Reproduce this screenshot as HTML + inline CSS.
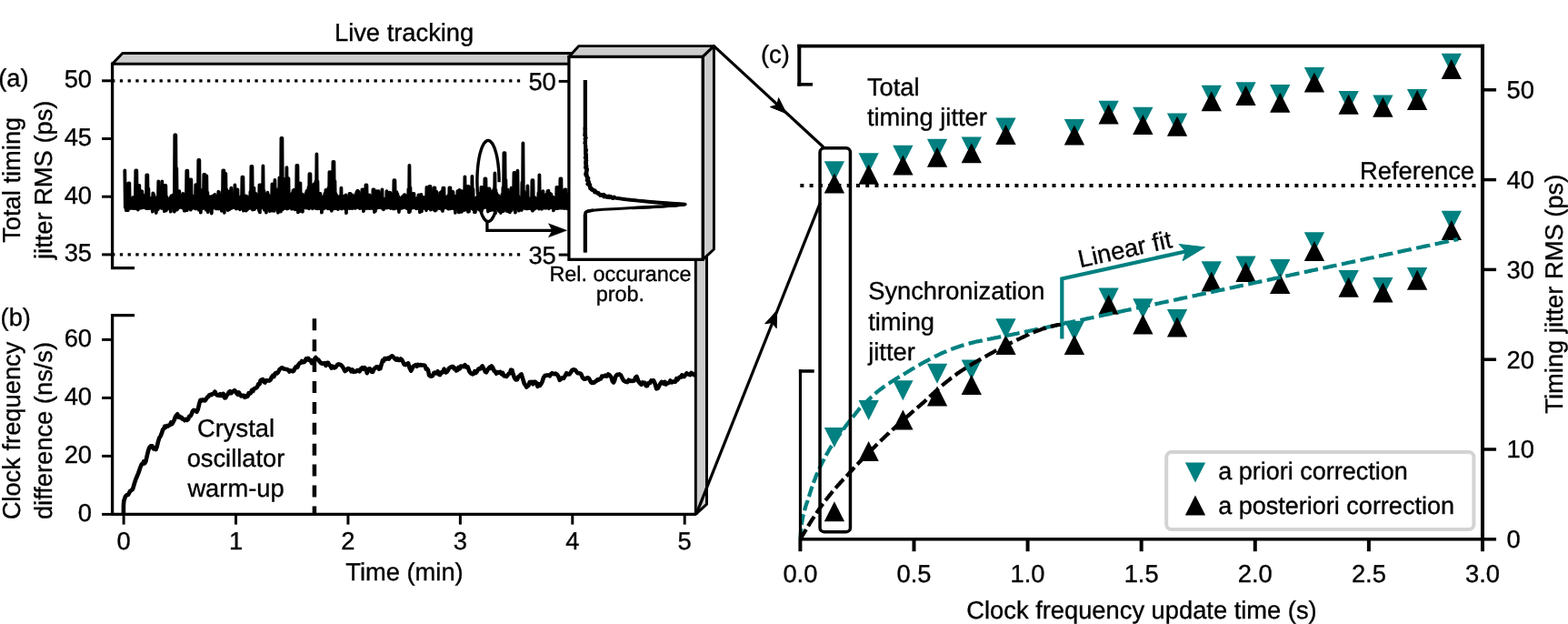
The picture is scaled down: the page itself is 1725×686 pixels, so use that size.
<!DOCTYPE html>
<html lang="en">
<head>
<meta charset="utf-8">
<title>Live tracking figure</title>
<style>
html,body{margin:0;padding:0;background:#fff;}
body{width:1725px;height:686px;overflow:hidden;}
svg{display:block;}
svg text{font-family:"Liberation Sans",Arial,Helvetica,sans-serif;text-rendering:geometricPrecision;stroke:#000;stroke-width:0.35px;}
</style>
</head>
<body>
<svg width="1725" height="686" viewBox="0 0 1725 686" role="img" aria-label="Live tracking of timing jitter and clock frequency difference">
<rect x="0" y="0" width="1725" height="686" fill="#ffffff"/>
<polygon points="123.60,70.20 134.80,58.40 776.50,58.40 765.30,70.20" fill="#cccccc" stroke="#000" stroke-width="2.95" stroke-linejoin="round"/>
<polygon points="765.30,70.20 777.50,58.40 777.50,554.35 765.30,565.35" fill="#cccccc" stroke="#000" stroke-width="2.95" stroke-linejoin="round"/>
<line x1="123.1" y1="88.80" x2="574" y2="88.80" stroke="#000" stroke-width="3.3" stroke-dasharray="3.3 5.44"/>
<line x1="123.1" y1="279.90" x2="574" y2="279.90" stroke="#000" stroke-width="3.3" stroke-dasharray="3.3 5.44"/>
<path d="M123.6,68.55 V294.6 H148" fill="none" stroke="#000" stroke-width="3.3" stroke-linejoin="miter" stroke-linecap="butt"/>
<line x1="112.10" y1="88.80" x2="123.60" y2="88.80" stroke="#000" stroke-width="3.0" />
<text x="101.00" y="96.20" font-size="27.3" text-anchor="end" fill="#000" >50</text>
<line x1="112.10" y1="152.50" x2="123.60" y2="152.50" stroke="#000" stroke-width="3.0" />
<text x="101.00" y="159.90" font-size="27.3" text-anchor="end" fill="#000" >45</text>
<line x1="112.10" y1="216.20" x2="123.60" y2="216.20" stroke="#000" stroke-width="3.0" />
<text x="101.00" y="223.60" font-size="27.3" text-anchor="end" fill="#000" >40</text>
<line x1="112.10" y1="279.90" x2="123.60" y2="279.90" stroke="#000" stroke-width="3.0" />
<text x="101.00" y="287.30" font-size="27.3" text-anchor="end" fill="#000" >35</text>
<path d="M549.1,200.2 L549.1,197.1 L549.0,194.1 L548.9,191.1 L548.7,188.2 L548.5,185.3 L548.2,182.4 L547.9,179.7 L547.5,177.0 L547.1,174.4 L546.6,171.9 L546.1,169.6 L545.5,167.4 L544.9,165.4 L544.3,163.5 L543.6,161.7 L542.9,160.2 L542.2,158.8 L541.4,157.6 L540.6,156.6 L539.9,155.8 L539.0,155.1 L538.2,154.7 L537.4,154.5 L536.6,154.5 L535.8,154.7 L535.0,155.1 L534.1,155.8 L533.4,156.6 L532.6,157.6 L531.8,158.8 L531.1,160.2 L530.4,161.7 L529.7,163.5 L529.1,165.4 L528.5,167.4 L527.9,169.6 L527.4,172.0 L526.9,174.4 L526.5,177.0 L526.1,179.7 L525.8,182.4 L525.5,185.3 L525.3,188.2 L525.1,191.1 L525.0,194.1 L524.9,197.1 L524.9,200.2 L525.0,203.2 L525.1,206.2 L525.2,209.2 L525.4,212.1 L525.7,214.9 L526.0,217.7 L526.4,220.4 L526.8,223.0 L527.3,225.5 L527.8,227.9 L528.3,230.1 L528.9,232.2 L529.6,234.1 L530.2,235.9 L530.9,237.5 L531.7,238.9 L532.4,240.2 L533.2,241.2 L534.0,242.1 L534.8,242.7 L535.6,243.2 L536.4,243.4 L537.2,243.5 L538.0,243.3 L538.9,243.0 L539.7,242.4 L540.5,241.6 L541.2,240.7 L542.0,239.5 L542.7,238.2 L543.5,236.7 L544.1,235.0 L544.8,233.1" fill="none" stroke="#000" stroke-width="3.4" stroke-linejoin="round" stroke-linecap="butt"/>
<path d="M137.3,187.4 L137.8,228.1 L138.3,208.4 L138.8,231.2 L139.3,217.6 L139.8,228.0 L140.3,211.6 L140.8,231.1 L141.3,201.4 L141.8,228.2 L142.3,201.4 L142.8,228.8 L143.3,220.3 L143.8,229.0 L144.3,217.6 L144.8,228.4 L145.3,218.4 L145.8,229.0 L146.3,217.2 L146.8,227.7 L147.3,216.7 L147.8,229.1 L148.3,218.6 L148.8,227.9 L149.3,187.4 L149.8,229.2 L150.3,187.4 L150.8,228.8 L151.3,207.3 L151.8,230.5 L152.3,204.0 L152.8,227.8 L153.3,204.0 L153.8,228.9 L154.3,212.2 L154.8,227.6 L155.3,210.1 L155.8,228.7 L156.3,210.3 L156.8,227.7 L157.3,214.2 L157.8,228.1 L158.3,216.4 L158.8,228.0 L159.3,218.1 L159.8,228.4 L160.3,215.3 L160.8,229.1 L161.3,192.3 L161.8,227.9 L162.3,192.3 L162.8,229.1 L163.3,207.3 L163.8,228.1 L164.3,220.2 L164.8,229.0 L165.3,218.1 L165.8,228.5 L166.3,219.0 L166.8,227.8 L167.3,217.1 L167.8,232.6 L168.3,212.5 L168.8,229.2 L169.3,213.8 L169.8,228.0 L170.3,216.9 L170.8,228.0 L171.3,217.3 L171.8,234.0 L172.3,219.3 L172.8,228.6 L173.3,218.0 L173.8,230.1 L174.3,199.3 L174.8,228.6 L175.3,213.8 L175.8,228.2 L176.3,219.0 L176.8,227.6 L177.3,218.7 L177.8,229.0 L178.3,199.3 L178.8,228.2 L179.3,216.3 L179.8,228.3 L180.3,215.2 L180.8,232.2 L181.3,204.0 L181.8,228.1 L182.3,204.0 L182.8,231.5 L183.3,216.4 L183.8,228.9 L184.3,218.9 L184.8,229.5 L185.3,219.3 L185.8,229.1 L186.3,219.7 L186.8,229.1 L187.3,217.3 L187.8,232.7 L188.3,215.5 L188.8,228.3 L189.3,217.9 L189.8,228.1 L190.3,214.4 L190.8,228.2 L191.3,215.0 L191.8,232.7 L192.3,148.4 L192.8,228.6 L193.3,148.4 L193.8,230.7 L194.3,185.2 L194.8,230.6 L195.3,218.9 L195.8,229.1 L196.3,210.1 L196.8,228.4 L197.3,210.1 L197.8,227.7 L198.3,219.6 L198.8,227.9 L199.3,217.5 L199.8,228.0 L200.3,216.5 L200.8,228.1 L201.3,212.9 L201.8,229.3 L202.3,215.4 L202.8,231.7 L203.3,216.3 L203.8,231.7 L204.3,215.5 L204.8,229.3 L205.3,187.7 L205.8,231.2 L206.3,187.7 L206.8,229.0 L207.3,215.2 L207.8,228.5 L208.3,209.8 L208.8,229.2 L209.3,197.5 L209.8,230.6 L210.3,197.5 L210.8,228.9 L211.3,215.0 L211.8,228.8 L212.3,220.0 L212.8,228.0 L213.3,217.7 L213.8,228.5 L214.3,216.5 L214.8,229.4 L215.3,203.1 L215.8,229.5 L216.3,215.1 L216.8,227.6 L217.3,202.6 L217.8,228.9 L218.3,176.0 L218.8,230.8 L219.3,176.0 L219.8,228.0 L220.3,209.0 L220.8,233.6 L221.3,211.6 L221.8,228.1 L222.3,213.1 L222.8,229.1 L223.3,208.7 L223.8,228.0 L224.3,191.8 L224.8,228.9 L225.3,191.8 L225.8,228.0 L226.3,209.0 L226.8,230.6 L227.3,193.5 L227.8,229.1 L228.3,211.6 L228.8,233.1 L229.3,215.6 L229.8,228.9 L230.3,217.9 L230.8,228.3 L231.3,218.8 L231.8,228.2 L232.3,216.1 L232.8,234.5 L233.3,217.4 L233.8,229.2 L234.3,215.4 L234.8,227.7 L235.3,216.5 L235.8,228.3 L236.3,213.9 L236.8,227.7 L237.3,215.2 L237.8,229.4 L238.3,216.5 L238.8,229.4 L239.3,215.6 L239.8,228.3 L240.3,210.7 L240.8,229.5 L241.3,214.5 L241.8,228.2 L242.3,215.4 L242.8,227.6 L243.3,214.1 L243.8,231.8 L244.3,210.9 L244.8,229.5 L245.3,187.4 L245.8,228.5 L246.3,187.4 L246.8,233.8 L247.3,214.1 L247.8,228.8 L248.3,190.9 L248.8,228.2 L249.3,208.4 L249.8,229.1 L250.3,216.0 L250.8,231.2 L251.3,212.4 L251.8,229.4 L252.3,210.4 L252.8,230.0 L253.3,214.0 L253.8,228.1 L254.3,206.6 L254.8,228.8 L255.3,219.1 L255.8,227.8 L256.4,218.2 L256.9,228.2 L257.4,214.4 L257.9,228.1 L258.4,203.5 L258.9,227.9 L259.4,216.0 L259.9,229.6 L260.4,208.4 L260.9,228.1 L261.4,208.4 L261.9,227.8 L262.4,216.6 L262.9,229.2 L263.4,217.9 L263.9,230.4 L264.4,218.7 L264.9,229.5 L265.4,215.9 L265.9,228.5 L266.4,194.7 L266.9,229.2 L267.4,194.7 L267.9,231.7 L268.4,216.0 L268.9,230.3 L269.4,215.3 L269.9,227.6 L270.4,215.4 L270.9,231.6 L271.4,215.8 L271.9,230.6 L272.4,216.6 L272.9,228.7 L273.4,219.7 L273.9,229.0 L274.4,218.9 L274.9,228.2 L275.4,210.8 L275.9,228.3 L276.4,183.0 L276.9,229.3 L277.4,183.0 L277.9,230.6 L278.4,214.8 L278.9,228.4 L279.4,206.6 L279.9,230.1 L280.4,215.6 L280.9,228.9 L281.4,212.9 L281.9,228.3 L282.4,215.6 L282.9,227.9 L283.4,215.9 L283.9,227.8 L284.4,217.7 L284.9,231.5 L285.4,203.5 L285.9,233.4 L286.4,203.5 L286.9,228.4 L287.4,218.8 L287.9,227.9 L288.4,204.9 L288.9,228.4 L289.4,182.5 L289.9,228.0 L290.4,209.8 L290.9,230.8 L291.4,218.8 L291.9,227.7 L292.4,215.1 L292.9,233.6 L293.4,213.7 L293.9,228.7 L294.4,211.7 L294.9,228.2 L295.4,214.3 L295.9,228.9 L296.4,217.4 L296.9,232.2 L297.4,218.8 L297.9,229.1 L298.4,216.1 L298.9,228.0 L299.4,202.3 L299.9,231.6 L300.4,216.6 L300.9,227.7 L301.4,216.0 L301.9,231.9 L302.4,197.9 L302.9,228.4 L303.4,210.9 L303.9,229.1 L304.4,208.5 L304.9,228.0 L305.4,209.1 L305.9,233.8 L306.4,214.3 L306.9,227.7 L307.4,195.3 L307.9,229.4 L308.4,195.3 L308.9,232.5 L309.4,152.0 L309.9,228.1 L310.4,152.0 L310.9,230.4 L311.4,217.6 L311.9,229.0 L312.4,197.0 L312.9,227.9 L313.4,197.0 L313.9,228.9 L314.4,210.3 L314.9,228.7 L315.4,184.2 L315.9,229.6 L316.4,212.7 L316.9,229.2 L317.4,196.1 L317.9,228.3 L318.4,213.6 L318.9,228.0 L319.4,216.4 L319.9,228.1 L320.4,215.1 L320.9,229.6 L321.4,212.6 L321.9,229.6 L322.4,209.7 L322.9,228.8 L323.4,208.7 L323.9,227.9 L324.4,213.5 L324.9,230.4 L325.4,216.0 L325.9,228.3 L326.4,181.8 L326.9,228.8 L327.4,181.8 L327.9,233.4 L328.4,204.9 L328.9,231.7 L329.4,214.0 L329.9,232.0 L330.4,201.4 L330.9,228.7 L331.4,216.0 L331.9,229.1 L332.4,213.5 L332.9,232.8 L333.4,216.4 L333.9,227.7 L334.4,217.6 L334.9,227.6 L335.4,214.9 L335.9,228.0 L336.4,212.7 L336.9,228.6 L337.4,210.0 L337.9,228.2 L338.4,210.7 L338.9,227.7 L339.4,206.0 L339.9,229.3 L340.4,191.2 L340.9,228.5 L341.4,191.2 L341.9,227.8 L342.4,217.0 L342.9,227.7 L343.4,217.6 L343.9,229.3 L344.4,213.3 L344.9,228.7 L345.4,202.3 L345.9,228.1 L346.4,216.0 L346.9,228.0 L347.4,199.2 L347.9,229.1 L348.4,169.5 L348.9,229.1 L349.4,199.3 L349.9,229.4 L350.4,217.6 L350.9,229.0 L351.4,214.5 L351.9,229.0 L352.4,212.8 L352.9,228.5 L353.4,218.8 L353.9,233.6 L354.4,219.0 L354.9,229.8 L355.4,217.0 L355.9,229.5 L356.4,215.4 L356.9,229.0 L357.4,212.6 L357.9,227.7 L358.4,208.9 L358.9,228.3 L359.4,210.0 L359.9,227.7 L360.4,211.5 L360.9,229.4 L361.4,206.4 L361.9,227.7 L362.4,189.1 L362.9,229.2 L363.4,189.1 L363.9,230.0 L364.4,217.4 L364.9,231.8 L365.4,203.4 L365.9,228.2 L366.4,177.8 L366.9,228.3 L367.4,177.8 L367.9,229.3 L368.4,199.1 L368.9,228.4 L369.4,213.0 L369.9,229.0 L370.4,214.8 L370.9,228.0 L371.4,216.7 L371.9,230.2 L372.4,216.5 L372.9,229.1 L373.4,217.2 L373.9,228.6 L374.4,215.7 L374.9,228.6 L375.4,206.6 L375.9,229.5 L376.4,215.3 L376.9,229.0 L377.4,216.8 L377.9,227.8 L378.4,217.7 L378.9,229.0 L379.4,215.4 L379.9,228.4 L380.4,214.3 L380.9,234.1 L381.4,216.9 L381.9,228.1 L382.4,219.2 L382.9,228.6 L383.4,217.0 L383.9,228.7 L384.4,212.8 L384.9,229.1 L385.4,212.8 L385.9,227.9 L386.4,214.7 L386.9,228.9 L387.4,214.5 L387.9,229.1 L388.4,216.7 L388.9,227.9 L389.4,218.2 L389.9,228.0 L390.4,215.7 L390.9,229.0 L391.4,213.3 L391.9,228.3 L392.4,211.0 L392.9,227.9 L393.4,209.7 L393.9,227.8 L394.4,210.6 L394.9,227.8 L395.4,214.1 L395.9,229.1 L396.4,218.4 L396.9,228.0 L397.4,217.9 L397.9,227.7 L398.4,208.4 L398.9,229.2 L399.4,208.4 L399.9,232.2 L400.4,215.7 L400.9,228.4 L401.4,213.7 L401.9,229.1 L402.4,203.5 L402.9,228.1 L403.4,203.5 L403.9,229.0 L404.4,216.7 L404.9,228.9 L405.4,217.9 L405.9,227.8 L406.4,214.4 L406.9,229.2 L407.4,217.7 L407.9,228.4 L408.4,216.5 L408.9,228.8 L409.4,216.6 L409.9,228.9 L410.4,208.4 L410.9,228.4 L411.4,208.4 L411.9,233.0 L412.4,219.5 L412.9,232.2 L413.4,215.2 L413.9,228.9 L414.4,210.1 L414.9,228.6 L415.4,212.2 L415.9,228.4 L416.4,210.2 L416.9,227.8 L417.4,212.8 L417.9,228.1 L418.4,213.0 L418.9,227.6 L419.4,212.8 L419.9,228.1 L420.4,208.4 L420.9,229.1 L421.4,218.8 L421.9,230.3 L422.4,219.3 L422.9,229.2 L423.4,218.7 L423.9,228.7 L424.4,218.5 L424.9,228.3 L425.4,210.1 L425.9,228.5 L426.4,216.3 L426.9,227.9 L427.4,214.6 L427.9,228.1 L428.4,211.6 L428.9,228.1 L429.4,212.0 L429.9,229.0 L430.4,214.5 L430.9,228.1 L431.4,216.0 L431.9,228.9 L432.4,213.6 L432.9,229.5 L433.4,198.2 L433.9,229.4 L434.4,198.2 L434.9,227.9 L435.4,213.2 L435.9,227.6 L436.4,211.2 L436.9,228.9 L437.4,213.5 L437.9,228.1 L438.4,216.2 L438.9,233.0 L439.4,218.2 L439.9,229.4 L440.4,219.7 L440.9,229.2 L441.4,217.8 L441.9,228.0 L442.4,216.3 L442.9,228.7 L443.4,215.8 L443.9,228.1 L444.4,214.5 L444.9,227.9 L445.4,214.1 L445.9,227.9 L446.4,217.1 L446.9,228.6 L447.4,219.3 L447.9,229.3 L448.4,219.7 L448.9,228.7 L449.4,207.9 L449.9,233.3 L450.4,181.8 L450.9,232.6 L451.4,206.4 L451.9,229.6 L452.4,216.4 L452.9,228.6 L453.4,214.9 L453.9,228.3 L454.4,212.8 L454.9,228.3 L455.4,212.8 L455.9,228.0 L456.4,217.8 L456.9,228.4 L457.4,218.5 L457.9,229.3 L458.4,219.4 L458.9,228.6 L459.4,217.3 L459.9,229.2 L460.4,214.5 L460.9,228.2 L461.4,214.5 L461.9,233.3 L462.4,216.7 L462.9,229.4 L463.4,214.0 L463.9,232.4 L464.4,216.6 L464.9,228.8 L465.4,218.9 L465.9,228.8 L466.4,216.8 L466.9,228.9 L467.4,216.8 L467.9,228.0 L468.4,217.4 L468.9,231.3 L469.4,205.8 L469.9,229.4 L470.4,216.7 L470.9,229.2 L471.4,215.8 L471.9,228.4 L472.4,204.9 L472.9,228.5 L473.4,204.9 L473.9,230.7 L474.4,217.2 L474.9,228.8 L475.4,214.5 L475.9,228.4 L476.4,212.0 L476.9,229.6 L477.4,206.3 L477.9,230.9 L478.4,206.3 L478.9,231.6 L479.4,212.5 L479.9,230.9 L480.4,210.8 L480.9,229.0 L481.4,215.3 L481.9,227.7 L482.4,217.3 L482.9,229.0 L483.4,218.0 L483.9,229.0 L484.4,211.9 L484.9,229.5 L485.4,211.1 L485.9,227.6 L486.4,209.9 L486.9,231.9 L487.4,206.6 L487.9,229.3 L488.4,206.6 L488.9,227.7 L489.4,216.2 L489.9,227.9 L490.4,219.3 L490.9,228.3 L491.4,216.7 L491.9,228.4 L492.4,218.7 L492.9,229.5 L493.4,214.7 L493.9,229.5 L494.4,206.3 L494.9,229.3 L495.4,206.3 L495.9,229.3 L496.4,212.7 L496.9,228.2 L497.4,211.2 L497.9,228.8 L498.4,211.0 L498.9,229.2 L499.4,215.1 L499.9,228.8 L500.4,218.6 L500.9,233.9 L501.4,219.3 L501.9,228.7 L502.4,215.5 L502.9,229.2 L503.4,210.1 L503.9,227.8 L504.4,210.1 L504.9,233.4 L505.4,209.0 L505.9,228.8 L506.4,211.4 L506.9,230.9 L507.4,209.9 L507.9,232.9 L508.4,210.5 L508.9,229.1 L509.4,213.0 L509.9,229.4 L510.4,213.4 L510.9,231.0 L511.4,194.4 L511.9,228.3 L512.4,212.5 L512.9,230.3 L513.4,212.7 L513.9,227.8 L514.4,204.9 L514.9,232.8 L515.4,204.9 L515.9,232.7 L516.4,219.2 L516.9,228.6 L517.4,217.9 L517.9,228.5 L518.4,216.8 L518.9,229.2 L519.4,193.9 L519.9,229.8 L520.4,208.0 L520.9,228.7 L521.4,217.7 L521.9,233.1 L522.4,219.0 L522.9,233.3 L523.4,220.2 L523.9,228.9 L524.4,217.2 L524.9,228.9 L525.4,218.2 L525.9,229.5 L526.4,218.5 L526.9,230.5 L527.4,215.6 L527.9,229.4 L528.4,212.5 L528.9,229.2 L529.4,205.8 L529.9,231.9 L530.4,205.8 L530.9,229.5 L531.4,211.9 L531.9,227.8 L532.4,211.1 L532.9,227.8 L533.4,196.5 L533.9,227.9 L534.4,196.5 L534.9,227.6 L535.4,214.2 L535.9,228.0 L536.4,214.3 L536.9,232.5 L537.4,207.5 L537.9,229.3 L538.4,207.5 L538.9,228.5 L539.4,213.7 L539.9,231.2 L540.4,210.5 L540.9,227.7 L541.4,213.0 L541.9,229.3 L542.4,216.0 L542.9,230.9 L543.4,207.8 L543.9,228.6 L544.4,190.5 L544.9,234.4 L545.4,208.9 L545.9,228.0 L546.4,212.7 L546.9,228.2 L547.4,215.8 L547.9,229.6 L548.4,215.1 L548.9,232.0 L549.4,218.3 L549.9,229.1 L550.4,219.1 L550.9,234.0 L551.4,216.4 L551.9,227.6 L552.4,213.6 L552.9,231.7 L553.4,206.1 L553.9,232.1 L554.4,168.1 L554.9,230.8 L555.4,168.1 L555.9,228.6 L556.4,197.9 L556.9,228.8 L557.4,208.4 L557.9,232.1 L558.4,208.4 L558.9,228.4 L559.4,211.3 L559.9,229.3 L560.4,214.2 L560.9,233.4 L561.4,215.3 L561.9,228.0 L562.4,206.6 L562.9,231.2 L563.4,213.7 L563.9,228.5 L564.4,206.9 L564.9,229.0 L565.4,190.0 L565.9,229.0 L566.4,190.0 L566.9,233.7 L567.4,216.8 L567.9,228.6 L568.4,211.9 L568.9,227.6 L569.4,187.7 L569.9,227.8 L570.4,216.0 L570.9,231.7 L571.4,219.7 L571.9,228.8 L572.4,219.7 L572.9,228.6 L573.4,217.6 L573.9,231.0 L574.4,200.5 L574.9,228.6 L575.4,157.3 L575.9,227.9 L576.4,210.4 L576.9,227.9 L577.4,219.0 L577.9,229.3 L578.4,219.6 L578.9,228.4 L579.4,216.4 L579.9,229.5 L580.4,204.5 L580.9,228.3 L581.4,219.3 L581.9,229.2 L582.4,219.3 L582.9,229.2 L583.4,218.3 L583.9,229.5 L584.4,219.9 L584.9,228.1 L585.4,198.2 L585.9,231.7 L586.4,198.2 L586.9,230.6 L587.4,216.8 L587.9,228.9 L588.4,217.1 L588.9,229.4 L589.4,218.5 L589.9,228.1 L590.4,220.0 L590.9,228.1 L591.4,218.9 L591.9,228.1 L592.4,212.1 L592.9,229.5 L593.4,192.3 L593.9,227.8 L594.4,218.2 L594.9,228.6 L595.4,216.4 L595.9,229.9 L596.4,216.6 L596.9,228.4 L597.4,210.1 L597.9,228.7 L598.4,214.6 L598.9,228.7 L599.4,217.1 L599.9,228.5 L600.4,214.5 L600.9,228.8 L601.4,213.3 L601.9,228.0 L602.4,210.2 L602.9,228.4 L603.4,209.6 L603.9,229.3 L604.4,212.8 L604.9,228.7 L605.4,212.8 L605.9,228.2 L606.4,213.7 L606.9,227.7 L607.4,217.4 L607.9,228.4 L608.4,216.6 L608.9,231.4 L609.4,217.6 L609.9,227.9 L610.4,217.6 L610.9,228.3 L611.4,217.6 L611.9,229.2 L612.4,205.8 L612.9,229.1 L613.4,205.8 L613.9,229.2 L614.4,217.1 L614.9,227.9 L615.4,213.8 L615.9,228.6 L616.4,196.5 L616.9,228.7 L617.4,196.5 L617.9,228.8 L618.4,213.9 L618.9,228.5 L619.4,216.4 L619.9,228.7 L620.4,216.1 L620.9,229.2 L621.4,208.4 L621.9,228.0 L622.4,208.4 L622.9,227.9 L623.4,217.7 L623.9,229.4 L624.4,216.6 L624.9,229.3 L625.4,213.5 L625.9,228.5" fill="none" stroke="#000" stroke-width="3.8" stroke-linejoin="round" stroke-linecap="round"/>
<path d="M535.9,242 V253.3 H612" fill="none" stroke="#000" stroke-width="3.3" stroke-linejoin="miter"/>
<polygon points="623.60,253.30 603.50,245.80 607.50,253.30 603.50,260.80" fill="#000" stroke="#000" stroke-width="0.5" />
<line x1="112.10" y1="565.40" x2="123.60" y2="565.40" stroke="#000" stroke-width="3.0" />
<text x="101.00" y="573.00" font-size="27.3" text-anchor="end" fill="#000" >0</text>
<line x1="112.10" y1="501.40" x2="123.60" y2="501.40" stroke="#000" stroke-width="3.0" />
<text x="101.00" y="509.00" font-size="27.3" text-anchor="end" fill="#000" >20</text>
<line x1="112.10" y1="437.40" x2="123.60" y2="437.40" stroke="#000" stroke-width="3.0" />
<text x="101.00" y="445.00" font-size="27.3" text-anchor="end" fill="#000" >40</text>
<line x1="112.10" y1="373.40" x2="123.60" y2="373.40" stroke="#000" stroke-width="3.0" />
<text x="101.00" y="381.00" font-size="27.3" text-anchor="end" fill="#000" >60</text>
<line x1="136.10" y1="565.35" x2="136.10" y2="576.65" stroke="#000" stroke-width="3.0" />
<text x="136.10" y="604.20" font-size="27.3" text-anchor="middle" fill="#000" >0</text>
<line x1="259.52" y1="565.35" x2="259.52" y2="576.65" stroke="#000" stroke-width="3.0" />
<text x="259.52" y="604.20" font-size="27.3" text-anchor="middle" fill="#000" >1</text>
<line x1="382.94" y1="565.35" x2="382.94" y2="576.65" stroke="#000" stroke-width="3.0" />
<text x="382.94" y="604.20" font-size="27.3" text-anchor="middle" fill="#000" >2</text>
<line x1="506.36" y1="565.35" x2="506.36" y2="576.65" stroke="#000" stroke-width="3.0" />
<text x="506.36" y="604.20" font-size="27.3" text-anchor="middle" fill="#000" >3</text>
<line x1="629.78" y1="565.35" x2="629.78" y2="576.65" stroke="#000" stroke-width="3.0" />
<text x="629.78" y="604.20" font-size="27.3" text-anchor="middle" fill="#000" >4</text>
<line x1="753.20" y1="565.35" x2="753.20" y2="576.65" stroke="#000" stroke-width="3.0" />
<text x="753.20" y="604.20" font-size="27.3" text-anchor="middle" fill="#000" >5</text>
<path d="M148,346.6 H123.6 V565.35 H765.3" fill="none" stroke="#000" stroke-width="3.3" stroke-linejoin="miter" stroke-linecap="butt"/>
<path d="M135.9,564.5 L135.9,556.0 L136.3,550.7 L137.8,546.1 L139.4,544.2 L141.0,544.0 L143.0,540.0 L144.5,539.1 L146.0,537.8 L148.0,531.0 L149.5,526.6 L151.0,523.0 L152.1,520.4 L153.2,517.4 L154.3,514.0 L155.7,510.5 L157.0,510.0 L158.1,507.4 L159.3,509.3 L160.4,507.2 L162.0,500.0 L163.2,495.1 L164.4,491.9 L165.9,490.2 L167.5,490.4 L168.8,493.3 L170.2,492.7 L171.5,494.0 L172.7,491.1 L173.9,485.8 L175.1,481.8 L176.6,479.4 L178.0,476.0 L179.1,472.3 L180.2,471.5 L181.3,468.6 L182.5,469.6 L183.6,468.1 L184.8,468.5 L185.9,467.4 L187.0,467.2 L188.2,464.4 L189.3,466.0 L190.4,464.3 L191.6,462.0 L192.9,458.4 L194.1,456.4 L195.2,455.3 L196.3,458.6 L197.4,457.7 L198.5,459.1 L199.6,458.8 L200.8,460.7 L202.1,460.8 L203.3,462.1 L204.6,460.9 L205.8,461.9 L207.0,461.0 L208.2,457.8 L209.5,457.5 L210.7,455.3 L211.9,452.1 L213.1,450.9 L214.2,451.2 L215.3,451.6 L216.5,452.7 L217.8,450.0 L219.2,443.9 L220.5,439.8 L221.8,440.4 L223.1,439.4 L224.4,440.3 L225.7,440.4 L226.8,438.5 L228.0,436.8 L229.2,436.1 L230.3,434.3 L231.5,433.8 L232.7,434.2 L234.0,432.7 L235.2,432.8 L236.4,430.6 L237.6,432.9 L238.7,434.4 L239.8,434.4 L241.0,434.9 L242.2,433.2 L243.3,435.1 L244.4,434.9 L245.6,432.8 L247.1,437.4 L248.2,437.3 L249.4,434.6 L250.5,433.6 L251.7,431.3 L253.0,430.2 L254.3,432.2 L255.5,431.2 L256.8,430.1 L258.1,429.2 L259.4,430.6 L260.5,432.6 L261.7,433.8 L262.9,431.5 L264.0,433.7 L265.3,435.5 L266.6,434.9 L267.9,434.8 L269.2,436.8 L270.3,435.3 L271.4,436.1 L272.5,435.7 L273.6,432.1 L274.7,432.8 L275.9,432.0 L277.1,428.8 L278.4,429.9 L279.6,427.3 L280.8,426.7 L282.0,426.5 L283.1,425.3 L284.3,422.1 L285.5,422.3 L286.6,418.4 L287.8,417.5 L289.0,417.1 L290.3,419.8 L291.5,420.5 L292.7,418.3 L293.9,418.3 L295.2,418.4 L296.4,418.5 L297.6,417.5 L298.8,414.8 L300.1,412.9 L301.3,414.1 L302.6,410.7 L303.8,409.8 L305.0,410.3 L306.2,408.9 L307.5,406.1 L308.7,405.3 L309.9,404.3 L311.1,404.7 L312.3,405.5 L313.6,405.7 L314.8,405.9 L316.0,406.1 L317.2,406.9 L318.4,408.5 L319.7,407.4 L320.9,407.6 L322.1,408.3 L323.4,407.5 L324.7,404.3 L326.0,403.0 L327.2,403.8 L328.5,400.7 L329.8,399.1 L330.9,399.0 L332.1,397.0 L333.2,398.1 L334.4,398.2 L335.5,397.4 L336.7,394.4 L337.9,395.4 L339.0,393.9 L340.3,396.1 L341.7,395.9 L343.0,399.1 L344.4,397.5 L345.9,394.9 L347.3,393.0 L348.7,395.1 L350.1,395.4 L351.5,397.4 L352.8,398.8 L354.0,399.7 L355.3,399.6 L356.9,399.1 L358.5,401.9 L359.8,398.8 L361.0,398.7 L362.3,401.2 L363.6,402.5 L364.7,404.6 L365.9,402.6 L367.0,403.8 L368.1,404.4 L369.6,403.4 L371.0,401.1 L372.5,400.4 L374.1,400.7 L375.7,401.9 L377.0,403.3 L378.2,405.5 L379.5,408.0 L381.1,406.9 L382.7,405.1 L384.0,405.2 L385.3,406.2 L386.5,408.3 L387.8,406.5 L389.1,408.9 L390.4,408.5 L391.6,408.4 L392.9,407.0 L394.2,407.0 L395.5,408.3 L397.1,405.3 L398.7,404.2 L400.0,405.7 L401.2,404.3 L402.5,405.7 L403.8,410.2 L405.7,405.5 L406.8,405.3 L407.9,407.0 L409.0,408.7 L410.1,408.9 L411.4,405.7 L412.7,404.6 L414.0,403.4 L415.5,403.4 L416.9,405.7 L418.4,405.1 L419.7,400.4 L421.0,396.1 L422.1,396.8 L423.3,394.0 L424.4,394.0 L425.6,394.6 L426.7,393.6 L427.9,394.6 L429.0,392.9 L430.2,391.9 L431.3,391.3 L432.5,392.3 L434.1,394.0 L435.7,395.5 L437.0,394.2 L438.2,396.0 L439.5,395.9 L440.8,394.5 L442.1,395.5 L443.3,397.8 L444.6,400.6 L446.1,401.2 L447.5,400.2 L449.0,399.3 L450.6,404.5 L452.2,407.6 L453.5,405.2 L454.8,402.5 L456.1,401.9 L457.4,401.1 L458.6,402.7 L459.9,400.9 L461.2,401.6 L462.5,401.1 L463.7,401.4 L465.0,401.5 L466.2,401.5 L467.5,401.9 L468.7,405.6 L469.8,405.3 L471.0,407.1 L472.1,412.6 L473.3,413.4 L474.6,413.7 L475.9,413.1 L477.1,410.3 L478.4,409.5 L480.0,410.4 L481.6,408.3 L482.9,411.7 L484.1,412.1 L485.2,409.6 L486.4,409.7 L487.5,408.4 L488.6,405.7 L490.5,409.5 L491.6,408.8 L492.8,407.1 L493.9,405.1 L495.1,404.1 L496.2,403.4 L497.4,403.1 L498.5,403.1 L499.7,405.5 L500.9,405.1 L502.0,407.5 L503.2,407.0 L504.5,404.0 L505.8,405.4 L507.1,402.5 L508.6,402.7 L510.0,403.1 L511.5,401.2 L513.1,403.6 L514.7,403.4 L516.3,408.2 L517.9,410.2 L519.8,411.4 L521.1,410.9 L522.3,408.2 L523.6,409.9 L524.9,408.3 L526.1,406.0 L527.2,405.3 L528.4,405.4 L529.5,403.7 L530.7,402.5 L532.3,405.4 L533.9,408.9 L535.1,409.3 L536.2,407.1 L537.4,405.2 L538.6,403.8 L539.7,404.8 L540.9,402.5 L542.2,404.5 L543.5,407.6 L544.7,408.2 L546.0,410.8 L547.5,409.1 L548.9,409.7 L550.4,408.9 L551.7,411.1 L553.0,410.0 L554.4,413.3 L555.7,413.4 L557.0,414.0 L558.3,412.7 L559.6,410.8 L560.9,410.6 L562.1,406.6 L563.4,407.0 L564.6,411.6 L565.9,415.3 L567.5,417.5 L569.1,417.2 L570.2,414.2 L571.4,413.5 L572.5,412.1 L573.6,411.4 L575.2,416.6 L576.8,421.7 L578.0,423.3 L579.3,425.5 L580.4,424.1 L581.5,423.9 L582.7,420.0 L583.8,420.4 L585.0,419.8 L586.3,422.3 L587.6,419.7 L588.9,419.7 L590.1,421.0 L591.4,424.8 L592.7,422.1 L594.0,423.9 L595.2,422.2 L596.5,419.7 L598.1,414.8 L599.7,412.7 L601.0,412.9 L602.2,412.4 L603.5,412.6 L604.8,413.4 L606.1,411.3 L607.4,410.2 L608.7,411.0 L610.0,411.1 L611.2,410.6 L612.5,411.4 L614.1,413.5 L615.7,417.8 L617.2,416.6 L618.6,415.3 L620.1,415.9 L621.7,413.2 L623.3,410.2 L624.9,411.5 L626.5,411.4 L627.8,409.7 L629.0,407.4 L630.3,406.5 L631.6,406.3 L632.9,406.8 L634.2,408.6 L635.4,410.2 L636.7,410.2 L638.0,410.4 L639.3,411.4 L640.9,415.0 L642.5,416.6 L644.0,416.6 L645.4,415.5 L646.9,415.3 L648.0,416.3 L649.1,418.1 L650.3,420.3 L651.4,421.0 L652.5,420.3 L653.6,420.7 L654.8,419.4 L655.9,419.1 L657.2,417.4 L658.4,417.6 L659.7,416.6 L661.0,416.5 L662.2,413.5 L663.5,413.9 L664.8,413.4 L665.9,412.6 L667.0,413.7 L668.1,413.4 L669.2,411.4 L670.8,412.6 L672.4,414.6 L673.7,418.9 L675.0,420.4 L676.2,417.9 L677.5,413.4 L678.8,411.9 L680.1,411.9 L681.4,411.4 L683.0,412.4 L684.6,415.9 L685.9,418.2 L687.1,419.0 L688.4,419.7 L690.0,420.1 L691.6,417.8 L692.9,418.9 L694.1,418.6 L695.4,419.0 L696.6,418.6 L697.9,418.5 L699.2,414.9 L700.5,414.0 L702.4,419.1 L704.0,421.3 L705.6,422.9 L706.9,420.3 L708.1,421.0 L709.4,420.9 L710.7,424.1 L712.0,424.2 L713.6,421.1 L715.2,421.0 L716.5,418.4 L717.7,418.5 L719.0,418.4 L720.3,421.0 L722.2,427.4 L723.8,426.8 L725.4,423.6 L726.7,421.4 L727.9,419.8 L729.2,420.4 L730.3,421.9 L731.5,419.8 L732.6,422.5 L733.7,421.7 L735.0,421.2 L736.2,420.7 L737.5,418.5 L739.0,420.4 L740.4,419.6 L741.9,419.7 L743.1,419.7 L744.2,416.1 L745.4,417.5 L746.5,415.7 L747.7,414.6 L749.0,414.8 L750.3,412.3 L751.5,413.9 L752.8,414.1 L754.1,412.1 L755.4,410.4 L756.6,411.0 L757.9,411.6 L759.2,412.2 L760.4,410.0 L761.7,410.6 L763.6,412.1" fill="none" stroke="#000" stroke-width="4.6" stroke-linejoin="round" stroke-linecap="round"/>
<line x1="345.91" y1="350.3" x2="345.91" y2="565.35" stroke="#000" stroke-width="4.5" stroke-dasharray="13.0 9.9"/>
<text x="259.50" y="479.50" font-size="27.3" text-anchor="middle" fill="#000" >Crystal</text>
<text x="259.50" y="512.50" font-size="27.3" text-anchor="middle" fill="#000" >oscillator</text>
<text x="259.50" y="545.50" font-size="27.3" text-anchor="middle" fill="#000" >warm-up</text>
<text x="445.00" y="637.50" font-size="27.3" text-anchor="middle" fill="#000" >Time (min)</text>
<text x="444.60" y="45.40" font-size="27.3" text-anchor="middle" fill="#000" >Live tracking</text>
<text x="-1.80" y="95.20" font-size="27.3" text-anchor="start" fill="#000" >(a)</text>
<text x="0.60" y="358.20" font-size="27.3" text-anchor="start" fill="#000" >(b)</text>
<text x="22.30" y="197.80" font-size="27.3" text-anchor="middle" fill="#000" transform="rotate(-90 22.30 197.80)" >Total timing</text>
<text x="56.90" y="197.80" font-size="27.3" text-anchor="middle" fill="#000" transform="rotate(-90 56.90 197.80)" >jitter RMS (ps)</text>
<text x="22.30" y="473.50" font-size="27.3" text-anchor="middle" fill="#000" transform="rotate(-90 22.30 473.50)" >Clock frequency</text>
<text x="56.90" y="473.50" font-size="27.3" text-anchor="middle" fill="#000" transform="rotate(-90 56.90 473.50)" >difference (ns/s)</text>
<polygon points="625.90,62.40 636.80,50.60 785.40,50.60 773.20,62.40" fill="#cccccc" stroke="#000" stroke-width="2.95" stroke-linejoin="round"/>
<polygon points="773.20,62.40 785.40,50.60 785.40,274.00 773.20,285.30" fill="#cccccc" stroke="#000" stroke-width="2.95" stroke-linejoin="round"/>
<rect x="625.9" y="62.4" width="147.30" height="222.90" fill="#fff" stroke="#000" stroke-width="3.3"/>
<line x1="614.70" y1="89.40" x2="625.90" y2="89.40" stroke="#000" stroke-width="3.0" />
<text x="611.80" y="99.20" font-size="27.3" text-anchor="end" fill="#000" >50</text>
<line x1="614.70" y1="280.10" x2="625.90" y2="280.10" stroke="#000" stroke-width="3.0" />
<text x="611.80" y="289.90" font-size="27.3" text-anchor="end" fill="#000" >35</text>
<path d="M643.8,88.0 L643.8,140.0 L644.1,160.0 L644.5,175.0 L645.0,185.0 L645.6,192.5 L646.4,197.0 L647.4,201.2 L649.0,205.0 L651.3,208.0 L654.3,210.5 L658.3,212.7 L662.8,214.5 L668.3,216.0 L676.8,217.6 L688.8,219.2 L701.8,220.6 L718.8,222.2 L735.8,223.5 L753.6,224.6 L741.8,225.9 L728.8,226.9 L713.8,227.7 L695.8,228.6 L679.8,229.5 L663.8,230.3 L651.8,231.2 L646.3,232.2 L644.3,233.5 L643.8,236.0 L643.8,277.5" fill="none" stroke="#000" stroke-width="3.0" stroke-linejoin="round" stroke-linecap="butt"/>
<path d="M643.8,88.0 L643.8,150.0" fill="none" stroke="#000" stroke-width="4.2" stroke-linecap="butt"/>
<path d="M643.8,236.0 L643.8,277.5" fill="none" stroke="#000" stroke-width="4.2" stroke-linecap="butt"/>
<path d="M651.8,231.2 L646.3,232.2 L644.3,233.5 L643.8,236.0" fill="none" stroke="#000" stroke-width="3.6" stroke-linecap="round" stroke-linejoin="round"/>
<path d="M643.8,140.0 L644.1,160.0 L644.5,175.0 L645.0,185.0 L645.6,192.5 L646.4,197.0 L647.4,201.2 L649.0,205.0 L651.3,208.0 L654.3,210.5 L658.3,212.7 L662.8,214.5 L668.3,216.0 L676.8,217.6 L688.8,219.2 L701.8,220.6 L718.8,222.2 L735.8,223.5 L753.6,224.6 L741.8,225.9" fill="none" stroke="#000" stroke-width="3.9" stroke-linecap="round" stroke-linejoin="round"/>
<path d="M753.6,224.6 L741.8,225.9 L728.8,226.9 L713.8,227.7 L695.8,228.6" fill="none" stroke="#000" stroke-width="3.4" stroke-linecap="round" stroke-linejoin="round"/>
<circle cx="643.8" cy="140.0" r="2.1" fill="#000"/>
<circle cx="643.9" cy="141.3" r="2.1" fill="#000"/>
<circle cx="643.8" cy="142.7" r="2.1" fill="#000"/>
<circle cx="643.8" cy="144.0" r="2.1" fill="#000"/>
<circle cx="643.9" cy="145.4" r="2.1" fill="#000"/>
<circle cx="643.8" cy="146.6" r="2.1" fill="#000"/>
<circle cx="643.4" cy="148.4" r="2.1" fill="#000"/>
<circle cx="644.2" cy="148.8" r="2.1" fill="#000"/>
<circle cx="644.5" cy="151.2" r="2.1" fill="#000"/>
<circle cx="644.2" cy="152.1" r="2.1" fill="#000"/>
<circle cx="643.6" cy="152.8" r="2.1" fill="#000"/>
<circle cx="644.1" cy="154.1" r="2.1" fill="#000"/>
<circle cx="643.7" cy="155.7" r="2.1" fill="#000"/>
<circle cx="643.5" cy="157.3" r="2.1" fill="#000"/>
<circle cx="644.0" cy="159.1" r="2.1" fill="#000"/>
<circle cx="644.1" cy="160.2" r="2.1" fill="#000"/>
<circle cx="644.1" cy="161.6" r="2.1" fill="#000"/>
<circle cx="644.1" cy="162.5" r="2.1" fill="#000"/>
<circle cx="644.8" cy="164.7" r="2.1" fill="#000"/>
<circle cx="644.7" cy="165.7" r="2.1" fill="#000"/>
<circle cx="644.1" cy="166.5" r="2.1" fill="#000"/>
<circle cx="644.1" cy="167.7" r="2.1" fill="#000"/>
<circle cx="644.7" cy="169.4" r="2.1" fill="#000"/>
<circle cx="644.8" cy="170.8" r="2.1" fill="#000"/>
<circle cx="645.0" cy="172.7" r="2.1" fill="#000"/>
<circle cx="643.9" cy="173.3" r="2.1" fill="#000"/>
<circle cx="645.0" cy="175.0" r="2.1" fill="#000"/>
<circle cx="645.1" cy="176.3" r="2.1" fill="#000"/>
<circle cx="644.1" cy="178.0" r="2.1" fill="#000"/>
<circle cx="645.0" cy="179.0" r="2.1" fill="#000"/>
<circle cx="644.3" cy="180.5" r="2.1" fill="#000"/>
<circle cx="645.4" cy="182.5" r="2.1" fill="#000"/>
<circle cx="644.5" cy="183.3" r="2.1" fill="#000"/>
<circle cx="644.2" cy="184.1" r="2.3" fill="#000"/>
<circle cx="645.7" cy="185.9" r="2.3" fill="#000"/>
<circle cx="645.4" cy="187.9" r="2.3" fill="#000"/>
<circle cx="644.7" cy="190.0" r="2.3" fill="#000"/>
<circle cx="644.7" cy="191.3" r="2.3" fill="#000"/>
<circle cx="644.8" cy="192.3" r="2.3" fill="#000"/>
<circle cx="645.3" cy="193.5" r="2.3" fill="#000"/>
<circle cx="647.1" cy="196.1" r="2.3" fill="#000"/>
<circle cx="646.0" cy="197.8" r="2.3" fill="#000"/>
<circle cx="646.2" cy="198.2" r="2.3" fill="#000"/>
<circle cx="647.8" cy="200.1" r="2.3" fill="#000"/>
<circle cx="646.6" cy="202.2" r="2.3" fill="#000"/>
<circle cx="647.4" cy="202.0" r="2.3" fill="#000"/>
<circle cx="649.0" cy="203.4" r="2.3" fill="#000"/>
<circle cx="648.6" cy="204.1" r="2.3" fill="#000"/>
<circle cx="649.3" cy="206.7" r="2.3" fill="#000"/>
<circle cx="650.8" cy="208.2" r="2.3" fill="#000"/>
<circle cx="652.0" cy="208.7" r="2.3" fill="#000"/>
<circle cx="654.2" cy="209.6" r="2.3" fill="#000"/>
<circle cx="654.4" cy="211.2" r="2.3" fill="#000"/>
<circle cx="655.0" cy="210.5" r="2.3" fill="#000"/>
<circle cx="657.8" cy="212.6" r="2.3" fill="#000"/>
<circle cx="657.8" cy="212.1" r="2.3" fill="#000"/>
<circle cx="660.3" cy="214.2" r="2.3" fill="#000"/>
<circle cx="660.7" cy="214.8" r="2.3" fill="#000"/>
<circle cx="663.6" cy="214.7" r="2.3" fill="#000"/>
<circle cx="664.0" cy="214.1" r="2.3" fill="#000"/>
<circle cx="664.6" cy="216.2" r="2.3" fill="#000"/>
<circle cx="666.4" cy="216.0" r="2.3" fill="#000"/>
<circle cx="667.8" cy="216.6" r="2.3" fill="#000"/>
<circle cx="669.9" cy="215.9" r="2.3" fill="#000"/>
<circle cx="670.5" cy="217.0" r="2.3" fill="#000"/>
<circle cx="671.7" cy="216.3" r="2.3" fill="#000"/>
<circle cx="674.1" cy="217.8" r="2.3" fill="#000"/>
<circle cx="675.6" cy="216.9" r="2.3" fill="#000"/>
<text x="682.40" y="308.50" font-size="23.4" text-anchor="middle" fill="#000" >Rel. occurance</text>
<text x="682.40" y="331.40" font-size="23.4" text-anchor="middle" fill="#000" >prob.</text>
<line x1="785.40" y1="50.60" x2="905.90" y2="161.80" stroke="#000" stroke-width="3.2" />
<line x1="765.90" y1="565.35" x2="902.40" y2="222.80" stroke="#000" stroke-width="3.2" />
<polygon points="865.20,124.80 847.39,117.55 854.88,115.28 856.55,107.63" fill="#000" stroke="#000" stroke-width="1.0" />
<polygon points="854.60,341.60 854.18,360.82 849.38,354.63 841.64,355.80" fill="#000" stroke="#000" stroke-width="1.0" />
<line x1="880.35" y1="204.0" x2="1629.5" y2="204.0" stroke="#000" stroke-width="4.1" stroke-dasharray="4 6.265"/>
<text x="1622.00" y="196.90" font-size="27.3" text-anchor="end" fill="#000" >Reference</text>
<path d="M1168.3,372.4 V306.4 L1310,275.2" fill="none" stroke="#008080" stroke-width="4.2" stroke-linejoin="miter"/>
<polygon points="1325.50,271.80 1301.13,286.69 1304.50,276.42 1297.13,268.52" fill="#008080" stroke="#008080" stroke-width="1.0" />
<text x="1188.30" y="294.20" font-size="27.3" text-anchor="start" fill="#000" transform="rotate(-12.3 1188.30 294.20)" >Linear fit</text>
<polygon points="906.77,177.20 929.07,177.20 917.92,199.20" fill="#008080" stroke="none" stroke-width="0" />
<polygon points="944.48,168.20 966.78,168.20 955.63,190.20" fill="#008080" stroke="none" stroke-width="0" />
<polygon points="982.20,159.70 1004.50,159.70 993.35,181.70" fill="#008080" stroke="none" stroke-width="0" />
<polygon points="1019.91,152.70 1042.21,152.70 1031.06,174.70" fill="#008080" stroke="none" stroke-width="0" />
<polygon points="1057.63,150.40 1079.93,150.40 1068.78,172.40" fill="#008080" stroke="none" stroke-width="0" />
<polygon points="1095.35,129.40 1117.65,129.40 1106.50,151.40" fill="#008080" stroke="none" stroke-width="0" />
<polygon points="1170.78,131.10 1193.08,131.10 1181.93,153.10" fill="#008080" stroke="none" stroke-width="0" />
<polygon points="1208.49,110.70 1230.79,110.70 1219.64,132.70" fill="#008080" stroke="none" stroke-width="0" />
<polygon points="1246.21,117.70 1268.51,117.70 1257.36,139.70" fill="#008080" stroke="none" stroke-width="0" />
<polygon points="1283.93,124.40 1306.23,124.40 1295.08,146.40" fill="#008080" stroke="none" stroke-width="0" />
<polygon points="1321.64,93.80 1343.94,93.80 1332.79,115.80" fill="#008080" stroke="none" stroke-width="0" />
<polygon points="1359.36,90.30 1381.66,90.30 1370.51,112.30" fill="#008080" stroke="none" stroke-width="0" />
<polygon points="1397.07,93.00 1419.37,93.00 1408.22,115.00" fill="#008080" stroke="none" stroke-width="0" />
<polygon points="1434.79,73.90 1457.09,73.90 1445.94,95.90" fill="#008080" stroke="none" stroke-width="0" />
<polygon points="1472.51,99.90 1494.81,99.90 1483.66,121.90" fill="#008080" stroke="none" stroke-width="0" />
<polygon points="1510.22,104.60 1532.52,104.60 1521.37,126.60" fill="#008080" stroke="none" stroke-width="0" />
<polygon points="1547.94,97.90 1570.24,97.90 1559.09,119.90" fill="#008080" stroke="none" stroke-width="0" />
<polygon points="1585.65,58.70 1607.95,58.70 1596.80,80.70" fill="#008080" stroke="none" stroke-width="0" />
<polygon points="906.77,212.40 929.07,212.40 917.92,190.40" fill="#000" stroke="none" stroke-width="0" />
<polygon points="944.48,202.80 966.78,202.80 955.63,180.80" fill="#000" stroke="none" stroke-width="0" />
<polygon points="982.20,192.60 1004.50,192.60 993.35,170.60" fill="#000" stroke="none" stroke-width="0" />
<polygon points="1019.91,183.80 1042.21,183.80 1031.06,161.80" fill="#000" stroke="none" stroke-width="0" />
<polygon points="1057.63,179.20 1079.93,179.20 1068.78,157.20" fill="#000" stroke="none" stroke-width="0" />
<polygon points="1095.35,159.10 1117.65,159.10 1106.50,137.10" fill="#000" stroke="none" stroke-width="0" />
<polygon points="1170.78,159.40 1193.08,159.40 1181.93,137.40" fill="#000" stroke="none" stroke-width="0" />
<polygon points="1208.49,136.60 1230.79,136.60 1219.64,114.60" fill="#000" stroke="none" stroke-width="0" />
<polygon points="1246.21,148.00 1268.51,148.00 1257.36,126.00" fill="#000" stroke="none" stroke-width="0" />
<polygon points="1283.93,149.70 1306.23,149.70 1295.08,127.70" fill="#000" stroke="none" stroke-width="0" />
<polygon points="1321.64,122.30 1343.94,122.30 1332.79,100.30" fill="#000" stroke="none" stroke-width="0" />
<polygon points="1359.36,115.90 1381.66,115.90 1370.51,93.90" fill="#000" stroke="none" stroke-width="0" />
<polygon points="1397.07,123.80 1419.37,123.80 1408.22,101.80" fill="#000" stroke="none" stroke-width="0" />
<polygon points="1434.79,101.40 1457.09,101.40 1445.94,79.40" fill="#000" stroke="none" stroke-width="0" />
<polygon points="1472.51,125.80 1494.81,125.80 1483.66,103.80" fill="#000" stroke="none" stroke-width="0" />
<polygon points="1510.22,128.70 1532.52,128.70 1521.37,106.70" fill="#000" stroke="none" stroke-width="0" />
<polygon points="1547.94,120.90 1570.24,120.90 1559.09,98.90" fill="#000" stroke="none" stroke-width="0" />
<polygon points="1585.65,87.00 1607.95,87.00 1596.80,65.00" fill="#000" stroke="none" stroke-width="0" />
<polygon points="906.77,470.10 929.07,470.10 917.92,492.10" fill="#008080" stroke="none" stroke-width="0" />
<polygon points="944.48,439.90 966.78,439.90 955.63,461.90" fill="#008080" stroke="none" stroke-width="0" />
<polygon points="982.20,418.20 1004.50,418.20 993.35,440.20" fill="#008080" stroke="none" stroke-width="0" />
<polygon points="1019.91,399.70 1042.21,399.70 1031.06,421.70" fill="#008080" stroke="none" stroke-width="0" />
<polygon points="1057.63,395.40 1079.93,395.40 1068.78,417.40" fill="#008080" stroke="none" stroke-width="0" />
<polygon points="1095.35,350.20 1117.65,350.20 1106.50,372.20" fill="#008080" stroke="none" stroke-width="0" />
<polygon points="1170.78,352.80 1193.08,352.80 1181.93,374.80" fill="#008080" stroke="none" stroke-width="0" />
<polygon points="1208.49,316.40 1230.79,316.40 1219.64,338.40" fill="#008080" stroke="none" stroke-width="0" />
<polygon points="1246.21,328.30 1268.51,328.30 1257.36,350.30" fill="#008080" stroke="none" stroke-width="0" />
<polygon points="1283.93,340.00 1306.23,340.00 1295.08,362.00" fill="#008080" stroke="none" stroke-width="0" />
<polygon points="1321.64,287.20 1343.94,287.20 1332.79,309.20" fill="#008080" stroke="none" stroke-width="0" />
<polygon points="1359.36,281.40 1381.66,281.40 1370.51,303.40" fill="#008080" stroke="none" stroke-width="0" />
<polygon points="1397.07,284.90 1419.37,284.90 1408.22,306.90" fill="#008080" stroke="none" stroke-width="0" />
<polygon points="1434.79,255.20 1457.09,255.20 1445.94,277.20" fill="#008080" stroke="none" stroke-width="0" />
<polygon points="1472.51,296.90 1494.81,296.90 1483.66,318.90" fill="#008080" stroke="none" stroke-width="0" />
<polygon points="1510.22,305.00 1532.52,305.00 1521.37,327.00" fill="#008080" stroke="none" stroke-width="0" />
<polygon points="1547.94,293.90 1570.24,293.90 1559.09,315.90" fill="#008080" stroke="none" stroke-width="0" />
<polygon points="1585.65,231.80 1607.95,231.80 1596.80,253.80" fill="#008080" stroke="none" stroke-width="0" />
<polygon points="906.77,573.20 929.07,573.20 917.92,551.20" fill="#000" stroke="none" stroke-width="0" />
<polygon points="944.48,507.10 966.78,507.10 955.63,485.10" fill="#000" stroke="none" stroke-width="0" />
<polygon points="982.20,472.60 1004.50,472.60 993.35,450.60" fill="#000" stroke="none" stroke-width="0" />
<polygon points="1019.91,446.40 1042.21,446.40 1031.06,424.40" fill="#000" stroke="none" stroke-width="0" />
<polygon points="1057.63,434.00 1079.93,434.00 1068.78,412.00" fill="#000" stroke="none" stroke-width="0" />
<polygon points="1095.35,390.10 1117.65,390.10 1106.50,368.10" fill="#000" stroke="none" stroke-width="0" />
<polygon points="1170.78,390.10 1193.08,390.10 1181.93,368.10" fill="#000" stroke="none" stroke-width="0" />
<polygon points="1208.49,345.80 1230.79,345.80 1219.64,323.80" fill="#000" stroke="none" stroke-width="0" />
<polygon points="1246.21,367.60 1268.51,367.60 1257.36,345.60" fill="#000" stroke="none" stroke-width="0" />
<polygon points="1283.93,370.50 1306.23,370.50 1295.08,348.50" fill="#000" stroke="none" stroke-width="0" />
<polygon points="1321.64,320.40 1343.94,320.40 1332.79,298.40" fill="#000" stroke="none" stroke-width="0" />
<polygon points="1359.36,309.90 1381.66,309.90 1370.51,287.90" fill="#000" stroke="none" stroke-width="0" />
<polygon points="1397.07,323.00 1419.37,323.00 1408.22,301.00" fill="#000" stroke="none" stroke-width="0" />
<polygon points="1434.79,286.90 1457.09,286.90 1445.94,264.90" fill="#000" stroke="none" stroke-width="0" />
<polygon points="1472.51,326.80 1494.81,326.80 1483.66,304.80" fill="#000" stroke="none" stroke-width="0" />
<polygon points="1510.22,332.40 1532.52,332.40 1521.37,310.40" fill="#000" stroke="none" stroke-width="0" />
<polygon points="1547.94,318.70 1570.24,318.70 1559.09,296.70" fill="#000" stroke="none" stroke-width="0" />
<polygon points="1585.65,264.10 1607.95,264.10 1596.80,242.10" fill="#000" stroke="none" stroke-width="0" />
<path d="M880.4,592.7 L880.5,590.8 L880.6,589.1 L880.8,587.5 L880.9,585.8 L881.0,584.1 L881.2,582.5 L881.3,581.0 M881.8,576.9 L882.0,575.3 L882.3,573.6 L882.6,571.9 L882.9,570.1 L883.3,568.2 L883.7,566.3 L884.0,565.4 M885.0,561.3 L885.5,559.5 L886.0,557.9 L886.6,555.9 L887.2,554.0 L887.8,552.3 L888.4,550.7 L888.6,549.9 M889.9,546.0 L890.4,544.4 L890.9,542.8 L891.4,541.2 L892.0,539.6 L892.4,538.2 L892.9,536.7 L893.4,535.2 L893.6,534.7 M894.9,530.8 L895.5,529.2 L896.1,527.7 L896.7,526.2 L897.2,524.8 L897.8,523.2 L898.5,521.6 L899.2,520.0 L899.4,519.5 M901.2,515.6 L901.9,514.0 L902.6,512.5 L903.3,511.1 L904.0,509.6 L904.8,508.1 L905.6,506.5 L906.3,505.2 L906.6,504.5 M908.7,500.7 L909.5,499.2 L910.3,497.8 L911.1,496.5 L911.9,495.0 L912.6,493.7 L913.5,492.3 L914.5,490.7 L915.0,490.0 M917.6,486.3 L918.6,484.9 L919.5,483.6 L920.4,482.3 L921.3,481.0 L922.3,479.6 L923.2,478.3 L924.1,477.1 L924.9,476.0 M927.5,472.3 L928.5,471.0 L929.5,469.6 L930.4,468.4 L931.4,467.1 L932.4,465.8 L933.4,464.5 L934.4,463.2 L935.3,462.0 M938.1,458.6 L939.2,457.2 L940.4,455.8 L941.4,454.5 L942.3,453.3 L943.4,452.0 L944.4,450.7 L945.5,449.4 L946.3,448.6 M949.5,445.3 L950.6,444.2 L951.7,443.2 L952.8,442.1 L954.0,440.9 L955.2,439.8 L956.3,438.7 L957.5,437.6 L958.7,436.5 L959.1,436.2 M962.7,432.9 L963.8,431.9 L965.0,430.9 L966.2,429.9 L967.5,428.9 L968.7,427.9 L970.0,427.0 L971.3,426.0 L972.6,425.1 L973.4,424.5 M977.7,421.6 L979.0,420.8 L980.2,420.0 L981.6,419.1 L982.9,418.3 L984.2,417.5 L985.5,416.6 L986.9,415.8 L988.2,415.0 L989.5,414.2 L989.7,414.1 M994.0,411.6 L995.3,410.8 L996.6,410.0 L997.9,409.2 L999.3,408.3 L1000.7,407.5 L1002.1,406.6 L1003.4,405.8 L1004.8,405.0 L1006.2,404.2 M1010.6,401.6 L1012.1,400.8 L1013.6,399.9 L1014.9,399.2 L1016.3,398.4 L1017.7,397.7 L1019.2,396.9 L1020.7,396.1 L1022.1,395.3 L1023.3,394.6 M1028.0,392.2 L1029.4,391.5 L1030.9,390.8 L1032.3,390.1 L1033.8,389.4 L1035.2,388.7 L1036.7,388.0 L1038.2,387.4 L1039.6,386.8 L1041.1,386.2 L1041.3,386.1 M1046.2,384.1 L1047.6,383.6 L1049.1,383.0 L1050.6,382.5 L1052.0,382.0 L1053.5,381.5 L1054.9,381.0 L1056.4,380.5 L1057.8,380.0 L1059.3,379.6 L1060.5,379.2 M1065.6,377.8 L1067.1,377.4 L1068.5,377.0 L1070.0,376.6 L1071.5,376.2 L1073.2,375.8 L1075.0,375.4 L1076.7,375.1 L1078.5,374.7 L1080.2,374.4 L1080.8,374.2 M1086.0,373.2 L1087.8,372.8 L1089.5,372.5 L1091.3,372.1 L1093.0,371.8 L1094.8,371.4 L1096.5,371.1 L1098.3,370.7 L1100.0,370.4 L1101.2,370.2 M1106.5,369.1 L1108.2,368.8 L1110.0,368.4 L1111.7,368.1 L1113.5,367.7 L1115.2,367.4 L1117.0,367.0 L1118.7,366.7 L1120.5,366.3 L1121.6,366.1 M1126.9,365.0 L1128.6,364.6 L1130.4,364.2 L1132.1,363.9 L1133.9,363.5 L1135.6,363.1 L1137.4,362.8 L1139.1,362.4 L1140.7,362.0 L1142.0,361.8 M1147.4,360.7 L1148.9,360.4 L1150.4,360.1 L1151.9,359.8 L1153.6,359.4 L1155.2,359.1 L1156.9,358.7 L1158.7,358.4 L1160.4,358.0 L1162.0,357.7 L1162.5,357.5 M1167.8,356.4 L1169.0,356.1 L1170.5,355.8 L1172.0,355.5 L1173.4,355.2 L1174.9,354.9 L1176.4,354.6 L1177.8,354.3 L1179.3,353.9 L1180.8,353.6 L1182.2,353.3 L1183.0,353.2 M1188.4,352.0 L1189.8,351.7 L1191.3,351.4 L1192.8,351.1 L1194.2,350.7 L1195.7,350.4 L1197.2,350.1 L1198.6,349.8 L1200.1,349.5 L1201.6,349.2 L1203.0,348.9 L1203.5,348.8 M1208.9,347.6 L1210.4,347.3 L1211.8,347.0 L1213.3,346.7 L1214.8,346.3 L1216.2,346.0 L1217.7,345.7 L1219.2,345.4 L1220.6,345.1 L1222.1,344.8 L1223.6,344.5 L1224.1,344.4 M1229.4,343.2 L1230.9,342.9 L1232.4,342.6 L1233.8,342.3 L1235.3,341.9 L1236.8,341.6 L1238.2,341.3 L1239.7,341.0 L1241.2,340.7 L1242.6,340.4 L1244.1,340.1 L1244.6,340.0 M1250.0,338.8 L1251.4,338.5 L1252.9,338.2 L1254.4,337.9 L1255.8,337.5 L1257.3,337.2 L1258.8,336.9 L1260.2,336.6 L1261.7,336.3 L1263.2,336.0 L1264.6,335.7 L1265.1,335.6 M1270.5,334.4 L1272.0,334.1 L1273.4,333.8 L1274.9,333.5 L1276.4,333.1 L1277.8,332.8 L1279.3,332.5 L1280.8,332.2 L1282.2,331.9 L1283.7,331.6 L1285.2,331.3 L1285.7,331.2 M1291.1,330.0 L1292.5,329.7 L1294.0,329.4 L1295.5,329.1 L1296.9,328.7 L1298.4,328.4 L1299.9,328.1 L1301.3,327.8 L1302.8,327.5 L1304.3,327.2 L1305.7,326.9 L1306.2,326.8 M1311.6,325.6 L1313.1,325.3 L1314.5,325.0 L1316.0,324.7 L1317.5,324.3 L1318.9,324.0 L1320.4,323.7 L1321.9,323.4 L1323.3,323.1 L1324.8,322.8 L1326.3,322.5 L1326.8,322.4 M1332.1,321.2 L1333.6,320.9 L1335.1,320.6 L1336.5,320.3 L1338.0,319.9 L1339.5,319.6 L1340.9,319.3 L1342.4,319.0 L1343.9,318.7 L1345.3,318.4 L1346.8,318.1 L1347.3,318.0 M1352.7,316.8 L1354.1,316.5 L1355.6,316.2 L1357.1,315.9 L1358.5,315.5 L1360.0,315.2 L1361.5,314.9 L1362.9,314.6 L1364.4,314.3 L1365.9,314.0 L1367.3,313.7 L1367.8,313.6 M1373.2,312.4 L1374.7,312.1 L1376.1,311.8 L1377.6,311.5 L1379.1,311.1 L1380.5,310.8 L1382.0,310.5 L1383.5,310.2 L1384.9,309.9 L1386.4,309.6 L1387.9,309.3 L1388.4,309.2 M1393.8,308.0 L1395.2,307.7 L1396.7,307.4 L1398.2,307.1 L1399.6,306.7 L1401.1,306.4 L1402.6,306.1 L1404.0,305.8 L1405.5,305.5 L1407.0,305.2 L1408.4,304.9 L1408.9,304.8 M1414.3,303.6 L1415.8,303.3 L1417.2,303.0 L1418.7,302.7 L1420.2,302.3 L1421.6,302.0 L1423.1,301.7 L1424.6,301.4 L1426.0,301.1 L1427.5,300.8 L1429.0,300.5 L1429.5,300.4 M1434.8,299.2 L1436.3,298.9 L1437.8,298.6 L1439.2,298.3 L1440.7,297.9 L1442.2,297.6 L1443.6,297.3 L1445.1,297.0 L1446.6,296.7 L1448.0,296.4 L1449.5,296.1 L1450.0,296.0 M1455.4,294.8 L1456.8,294.5 L1458.3,294.2 L1459.8,293.9 L1461.2,293.5 L1462.7,293.2 L1464.2,292.9 L1465.6,292.6 L1467.1,292.3 L1468.6,292.0 L1470.0,291.7 L1470.5,291.6 M1475.9,290.4 L1477.4,290.1 L1478.8,289.8 L1480.3,289.5 L1481.8,289.1 L1483.2,288.8 L1484.7,288.5 L1486.2,288.2 L1487.7,287.9 L1489.1,287.6 L1490.6,287.3 L1491.1,287.2 M1496.5,286.0 L1497.9,285.7 L1499.4,285.4 L1500.9,285.1 L1502.3,284.7 L1503.8,284.4 L1505.3,284.1 L1506.7,283.8 L1508.2,283.5 L1509.7,283.2 L1511.1,282.9 L1511.6,282.7 M1517.0,281.6 L1518.5,281.3 L1519.9,281.0 L1521.4,280.7 L1522.9,280.3 L1524.3,280.0 L1525.8,279.7 L1527.3,279.4 L1528.7,279.1 L1530.2,278.8 L1531.7,278.5 L1532.2,278.3 M1537.5,277.2 L1539.0,276.9 L1540.5,276.6 L1541.9,276.3 L1543.4,275.9 L1544.9,275.6 L1546.3,275.3 L1547.8,275.0 L1549.3,274.7 L1550.7,274.4 L1552.2,274.1 L1552.7,273.9 M1558.1,272.8 L1559.5,272.5 L1561.0,272.2 L1562.5,271.9 L1563.9,271.5 L1565.4,271.2 L1566.9,270.9 L1568.3,270.6 L1569.8,270.3 L1571.3,270.0 L1572.7,269.7 L1573.2,269.5 M1578.6,268.4 L1580.1,268.1 L1581.5,267.8 L1583.0,267.5 L1584.5,267.1 L1585.9,266.8 L1587.4,266.5 L1588.9,266.2 L1590.4,265.9 L1591.8,265.6 L1593.3,265.3 L1593.8,265.1 M1599.2,264.0 L1600.6,263.7 L1602.1,263.4 L1603.6,263.1 L1603.8,263.0" fill="none" stroke="#008080" stroke-width="4.2" stroke-linecap="butt" stroke-linejoin="round"/>
<path d="M880.4,592.7 L881.3,591.2 L882.1,589.9 L882.9,588.6 L883.7,587.3 L884.5,585.9 L885.3,584.5 L886.1,583.2 L886.8,582.0 M889.0,578.4 L889.9,577.0 L890.7,575.7 L891.5,574.3 L892.4,573.0 L893.2,571.7 L894.0,570.4 L894.9,569.1 L895.7,567.8 M898.1,564.1 L899.1,562.7 L900.0,561.4 L901.0,560.0 L901.9,558.6 L902.9,557.2 L903.9,555.8 L904.8,554.6 L905.5,553.8 M908.1,550.2 L909.1,549.0 L910.1,547.7 L911.1,546.5 L912.0,545.2 L913.1,544.0 L914.1,542.7 L915.1,541.4 L916.2,540.2 M919.2,536.6 L920.3,535.3 L921.3,534.2 L922.3,533.0 L923.4,531.9 L924.4,530.7 L925.5,529.5 L926.6,528.4 L927.6,527.2 L928.0,526.8 M931.2,523.4 L932.3,522.3 L933.4,521.1 L934.4,519.9 L935.5,518.8 L936.6,517.6 L937.8,516.3 L938.8,515.1 L940.0,513.8 M943.1,510.5 L944.4,509.2 L945.5,508.0 L946.6,506.9 L947.7,505.8 L948.8,504.6 L950.0,503.5 L951.1,502.3 L952.2,501.2 L952.4,501.0 M955.8,497.6 L956.9,496.5 L958.0,495.4 L959.1,494.2 L960.3,493.1 L961.4,492.0 L962.5,490.9 L963.6,489.8 L964.7,488.7 L965.1,488.3 M968.5,485.0 L969.6,483.9 L970.8,482.8 L972.0,481.7 L973.1,480.6 L974.2,479.5 L975.3,478.5 L976.5,477.4 L977.6,476.4 L978.1,475.8 M981.6,472.7 L982.7,471.6 L984.0,470.5 L985.2,469.4 L986.3,468.3 L987.5,467.3 L988.7,466.2 L989.9,465.1 L991.1,464.1 L991.6,463.6 M995.1,460.5 L996.3,459.5 L997.5,458.4 L998.7,457.4 L999.8,456.4 L1001.0,455.4 L1002.2,454.3 L1003.4,453.2 L1004.6,452.2 L1005.4,451.5 M1009.0,448.4 L1010.2,447.3 L1011.4,446.3 L1012.8,445.1 L1014.5,443.7 L1016.1,442.3 L1017.5,441.0 L1018.8,439.8 L1019.2,439.4 M1022.6,436.3 L1023.7,435.2 L1024.9,434.2 L1026.0,433.1 L1027.2,432.0 L1028.4,430.9 L1029.6,429.8 L1030.8,428.7 L1032.0,427.6 L1032.5,427.1 M1036.2,423.9 L1037.5,422.9 L1038.8,421.9 L1040.0,420.8 L1041.2,419.8 L1042.5,418.8 L1043.8,417.8 L1045.0,416.8 L1046.2,415.8 L1046.9,415.4 M1050.8,412.4 L1052.1,411.5 L1053.3,410.6 L1054.6,409.7 L1055.8,408.9 L1057.1,408.0 L1058.6,407.1 L1060.0,406.1 L1061.5,405.2 L1062.5,404.6 M1066.8,401.9 L1068.3,401.0 L1069.8,400.1 L1071.2,399.3 L1072.7,398.4 L1074.1,397.5 L1075.6,396.7 L1077.0,395.9 L1078.5,395.0 L1079.2,394.6 M1083.6,392.2 L1085.1,391.4 L1086.5,390.5 L1088.0,389.7 L1089.4,388.9 L1090.9,388.1 L1092.4,387.3 L1093.8,386.5 L1095.3,385.6 L1096.2,385.1 M1100.6,382.7 L1102.1,381.9 L1103.5,381.2 L1105.0,380.4 L1106.5,379.7 L1107.9,378.9 L1109.4,378.2 L1110.8,377.5 L1112.3,376.8 L1113.8,376.1 M1118.4,373.9 L1119.8,373.2 L1121.3,372.6 L1122.7,371.9 L1124.2,371.2 L1125.7,370.5 L1127.1,369.8 L1128.6,369.1 L1130.0,368.4 L1131.5,367.8 L1131.7,367.6 M1136.6,365.5 L1138.1,364.9 L1139.5,364.3 L1141.0,363.7 L1142.5,363.2 L1144.0,362.7 L1145.6,362.1 L1147.2,361.6 L1148.7,361.1 L1150.3,360.7 L1150.8,360.5 M1155.8,359.1 L1157.5,358.6 L1159.1,358.2 L1160.7,357.8 L1162.5,357.4 L1164.1,357.1 L1166.1,356.8 L1167.0,356.6" fill="none" stroke="#000" stroke-width="4.2" stroke-linecap="butt" stroke-linejoin="round"/>
<rect x="902.05" y="162.8" width="33.4" height="421.9" rx="4.5" ry="4.5" fill="none" stroke="#000" stroke-width="3.5"/>
<line x1="877.30" y1="50.60" x2="1632.95" y2="50.60" stroke="#000" stroke-width="3.55" />
<line x1="878.83" y1="592.70" x2="1632.95" y2="592.70" stroke="#000" stroke-width="3.55" />
<line x1="1630.95" y1="48.83" x2="1630.95" y2="594.47" stroke="#000" stroke-width="4.0" />
<line x1="880.45" y1="406.23" x2="880.45" y2="592.70" stroke="#000" stroke-width="3.15" />
<line x1="878.90" y1="408.00" x2="895.70" y2="408.00" stroke="#000" stroke-width="3.55" />
<line x1="879.30" y1="48.83" x2="879.30" y2="94.60" stroke="#000" stroke-width="4.0" />
<line x1="877.30" y1="92.80" x2="894.00" y2="92.80" stroke="#000" stroke-width="3.6" />
<line x1="1630.95" y1="592.80" x2="1646.05" y2="592.80" stroke="#000" stroke-width="3.5" />
<text x="1657.50" y="602.10" font-size="27.3" text-anchor="start" fill="#000" >0</text>
<line x1="1630.95" y1="494.00" x2="1646.05" y2="494.00" stroke="#000" stroke-width="3.5" />
<text x="1657.50" y="503.30" font-size="27.3" text-anchor="start" fill="#000" >10</text>
<line x1="1630.95" y1="395.20" x2="1646.05" y2="395.20" stroke="#000" stroke-width="3.5" />
<text x="1657.50" y="404.50" font-size="27.3" text-anchor="start" fill="#000" >20</text>
<line x1="1630.95" y1="296.40" x2="1646.05" y2="296.40" stroke="#000" stroke-width="3.5" />
<text x="1657.50" y="305.70" font-size="27.3" text-anchor="start" fill="#000" >30</text>
<line x1="1630.95" y1="197.60" x2="1646.05" y2="197.60" stroke="#000" stroke-width="3.5" />
<text x="1657.50" y="206.90" font-size="27.3" text-anchor="start" fill="#000" >40</text>
<line x1="1630.95" y1="98.80" x2="1646.05" y2="98.80" stroke="#000" stroke-width="3.5" />
<text x="1657.50" y="108.10" font-size="27.3" text-anchor="start" fill="#000" >50</text>
<line x1="880.40" y1="592.70" x2="880.40" y2="606.20" stroke="#000" stroke-width="4.0" />
<text x="880.40" y="639.60" font-size="27.3" text-anchor="middle" fill="#000" >0.0</text>
<line x1="1005.49" y1="592.70" x2="1005.49" y2="606.20" stroke="#000" stroke-width="4.0" />
<text x="1005.49" y="639.60" font-size="27.3" text-anchor="middle" fill="#000" >0.5</text>
<line x1="1130.58" y1="592.70" x2="1130.58" y2="606.20" stroke="#000" stroke-width="4.0" />
<text x="1130.58" y="639.60" font-size="27.3" text-anchor="middle" fill="#000" >1.0</text>
<line x1="1255.67" y1="592.70" x2="1255.67" y2="606.20" stroke="#000" stroke-width="4.0" />
<text x="1255.67" y="639.60" font-size="27.3" text-anchor="middle" fill="#000" >1.5</text>
<line x1="1380.77" y1="592.70" x2="1380.77" y2="606.20" stroke="#000" stroke-width="4.0" />
<text x="1380.77" y="639.60" font-size="27.3" text-anchor="middle" fill="#000" >2.0</text>
<line x1="1505.86" y1="592.70" x2="1505.86" y2="606.20" stroke="#000" stroke-width="4.0" />
<text x="1505.86" y="639.60" font-size="27.3" text-anchor="middle" fill="#000" >2.5</text>
<line x1="1630.95" y1="592.70" x2="1630.95" y2="606.20" stroke="#000" stroke-width="4.0" />
<text x="1630.95" y="639.60" font-size="27.3" text-anchor="middle" fill="#000" >3.0</text>
<text x="1256.00" y="679.60" font-size="27.3" text-anchor="middle" fill="#000" >Clock frequency update time (s)</text>
<text x="1719.00" y="323.20" font-size="27.3" text-anchor="middle" fill="#000" transform="rotate(-90 1719.00 323.20)" >Timing jitter RMS (ps)</text>
<text x="837.00" y="68.80" font-size="27.3" text-anchor="start" fill="#000" >(c)</text>
<text x="953.90" y="104.50" font-size="27.3" text-anchor="start" fill="#000" >Total</text>
<text x="953.90" y="138.30" font-size="27.3" text-anchor="start" fill="#000" >timing jitter</text>
<text x="955.20" y="328.50" font-size="27.3" text-anchor="start" fill="#000" >Synchronization</text>
<text x="955.20" y="362.70" font-size="27.3" text-anchor="start" fill="#000" >timing</text>
<text x="955.20" y="396.40" font-size="27.3" text-anchor="start" fill="#000" >jitter</text>
<rect x="1283.2" y="497" width="338.2" height="85" rx="5.5" ry="5.5" fill="#fff" stroke="#d3d3d3" stroke-width="4.0"/>
<polygon points="1303.85,508.40 1326.15,508.40 1315.00,530.40" fill="#008080" stroke="none" stroke-width="0" />
<polygon points="1303.85,566.50 1326.15,566.50 1315.00,544.50" fill="#000" stroke="none" stroke-width="0" />
<text x="1340.30" y="527.40" font-size="27.0" text-anchor="start" fill="#000" >a priori correction</text>
<text x="1340.30" y="565.30" font-size="27.0" text-anchor="start" fill="#000" >a posteriori correction</text>
</svg>
</body>
</html>
